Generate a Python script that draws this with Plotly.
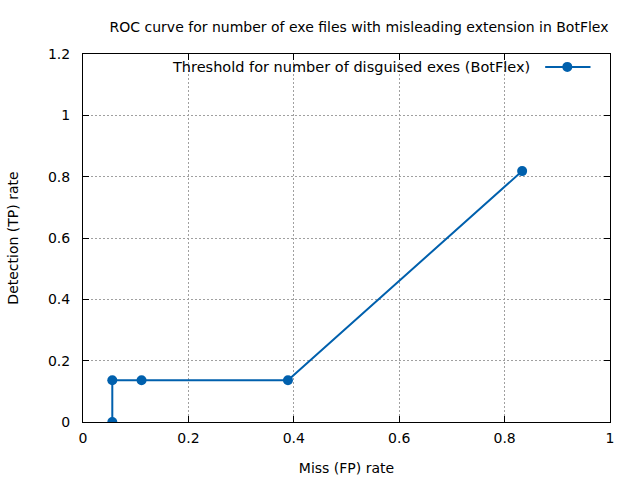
import plotly.graph_objects as go

# ROC points (miss rate vs detection rate)
fp_rate = [0.0556, 0.0556, 0.1111, 0.3889, 0.8333]
tp_rate = [0.0, 0.1364, 0.1364, 0.1364, 0.8182]

series_name = "Threshold for number of disguised exes (BotFlex)"
line_color = "#0060ad"

fig = go.Figure()
fig.add_trace(go.Scatter(
    x=fp_rate,
    y=tp_rate,
    mode="lines+markers",
    name=series_name,
    line=dict(color=line_color, width=2),
    marker=dict(color=line_color, size=10, symbol="circle"),
    showlegend=False,
))

axis_style = dict(
    showline=True,
    linecolor="black",
    linewidth=1,
    mirror="allticks",
    ticks="inside",
    ticklen=6,
    tickcolor="black",
    showgrid=True,
    gridcolor="#a0a0a0",
    griddash="2px,2px",
    gridwidth=1,
    zeroline=False,
    automargin=False,
    tickfont=dict(size=14, color="black"),
)

fig.update_xaxes(range=[0, 1], dtick=0.2, ticklabelstandoff=3,
                 title=dict(text="Miss (FP) rate", standoff=18, font=dict(size=14)),
                 **axis_style)
fig.update_yaxes(range=[0, 1.2], dtick=0.2, ticklabelstandoff=9,
                 title=dict(text="Detection (TP) rate", standoff=26, font=dict(size=14)),
                 **axis_style)

# gnuplot-style key: text on the left, sample on the right
fig.add_annotation(
    x=0.852, y=0.965, xref="paper", yref="paper",
    text=series_name, showarrow=False, xanchor="right", yanchor="middle",
    font=dict(size=14.5, color="black"),
)
fig.add_shape(type="line", xref="paper", yref="paper",
              x0=0.877, x1=0.963, y0=0.965, y1=0.965,
              line=dict(color=line_color, width=2))
fig.add_shape(type="circle", xref="paper", yref="paper",
              xsizemode="pixel", ysizemode="pixel",
              xanchor=0.919, yanchor=0.965,
              x0=-5, x1=5, y0=-5, y1=5,
              fillcolor=line_color, line=dict(color=line_color, width=0))

fig.update_layout(
    width=640,
    height=480,
    title=dict(text="ROC curve for number of exe files with misleading extension in BotFlex",
               x=0.561, xanchor="center", y=0.944, yanchor="middle",
               font=dict(size=14, color="black")),
    font=dict(family="DejaVu Sans", size=14, color="black"),
    plot_bgcolor="white",
    paper_bgcolor="white",
    margin=dict(l=83, r=30, t=54, b=58),
)

fig.write_html("out.html", config={"displayModeBar": False},
               post_script="document.body.style.margin='0px';")
